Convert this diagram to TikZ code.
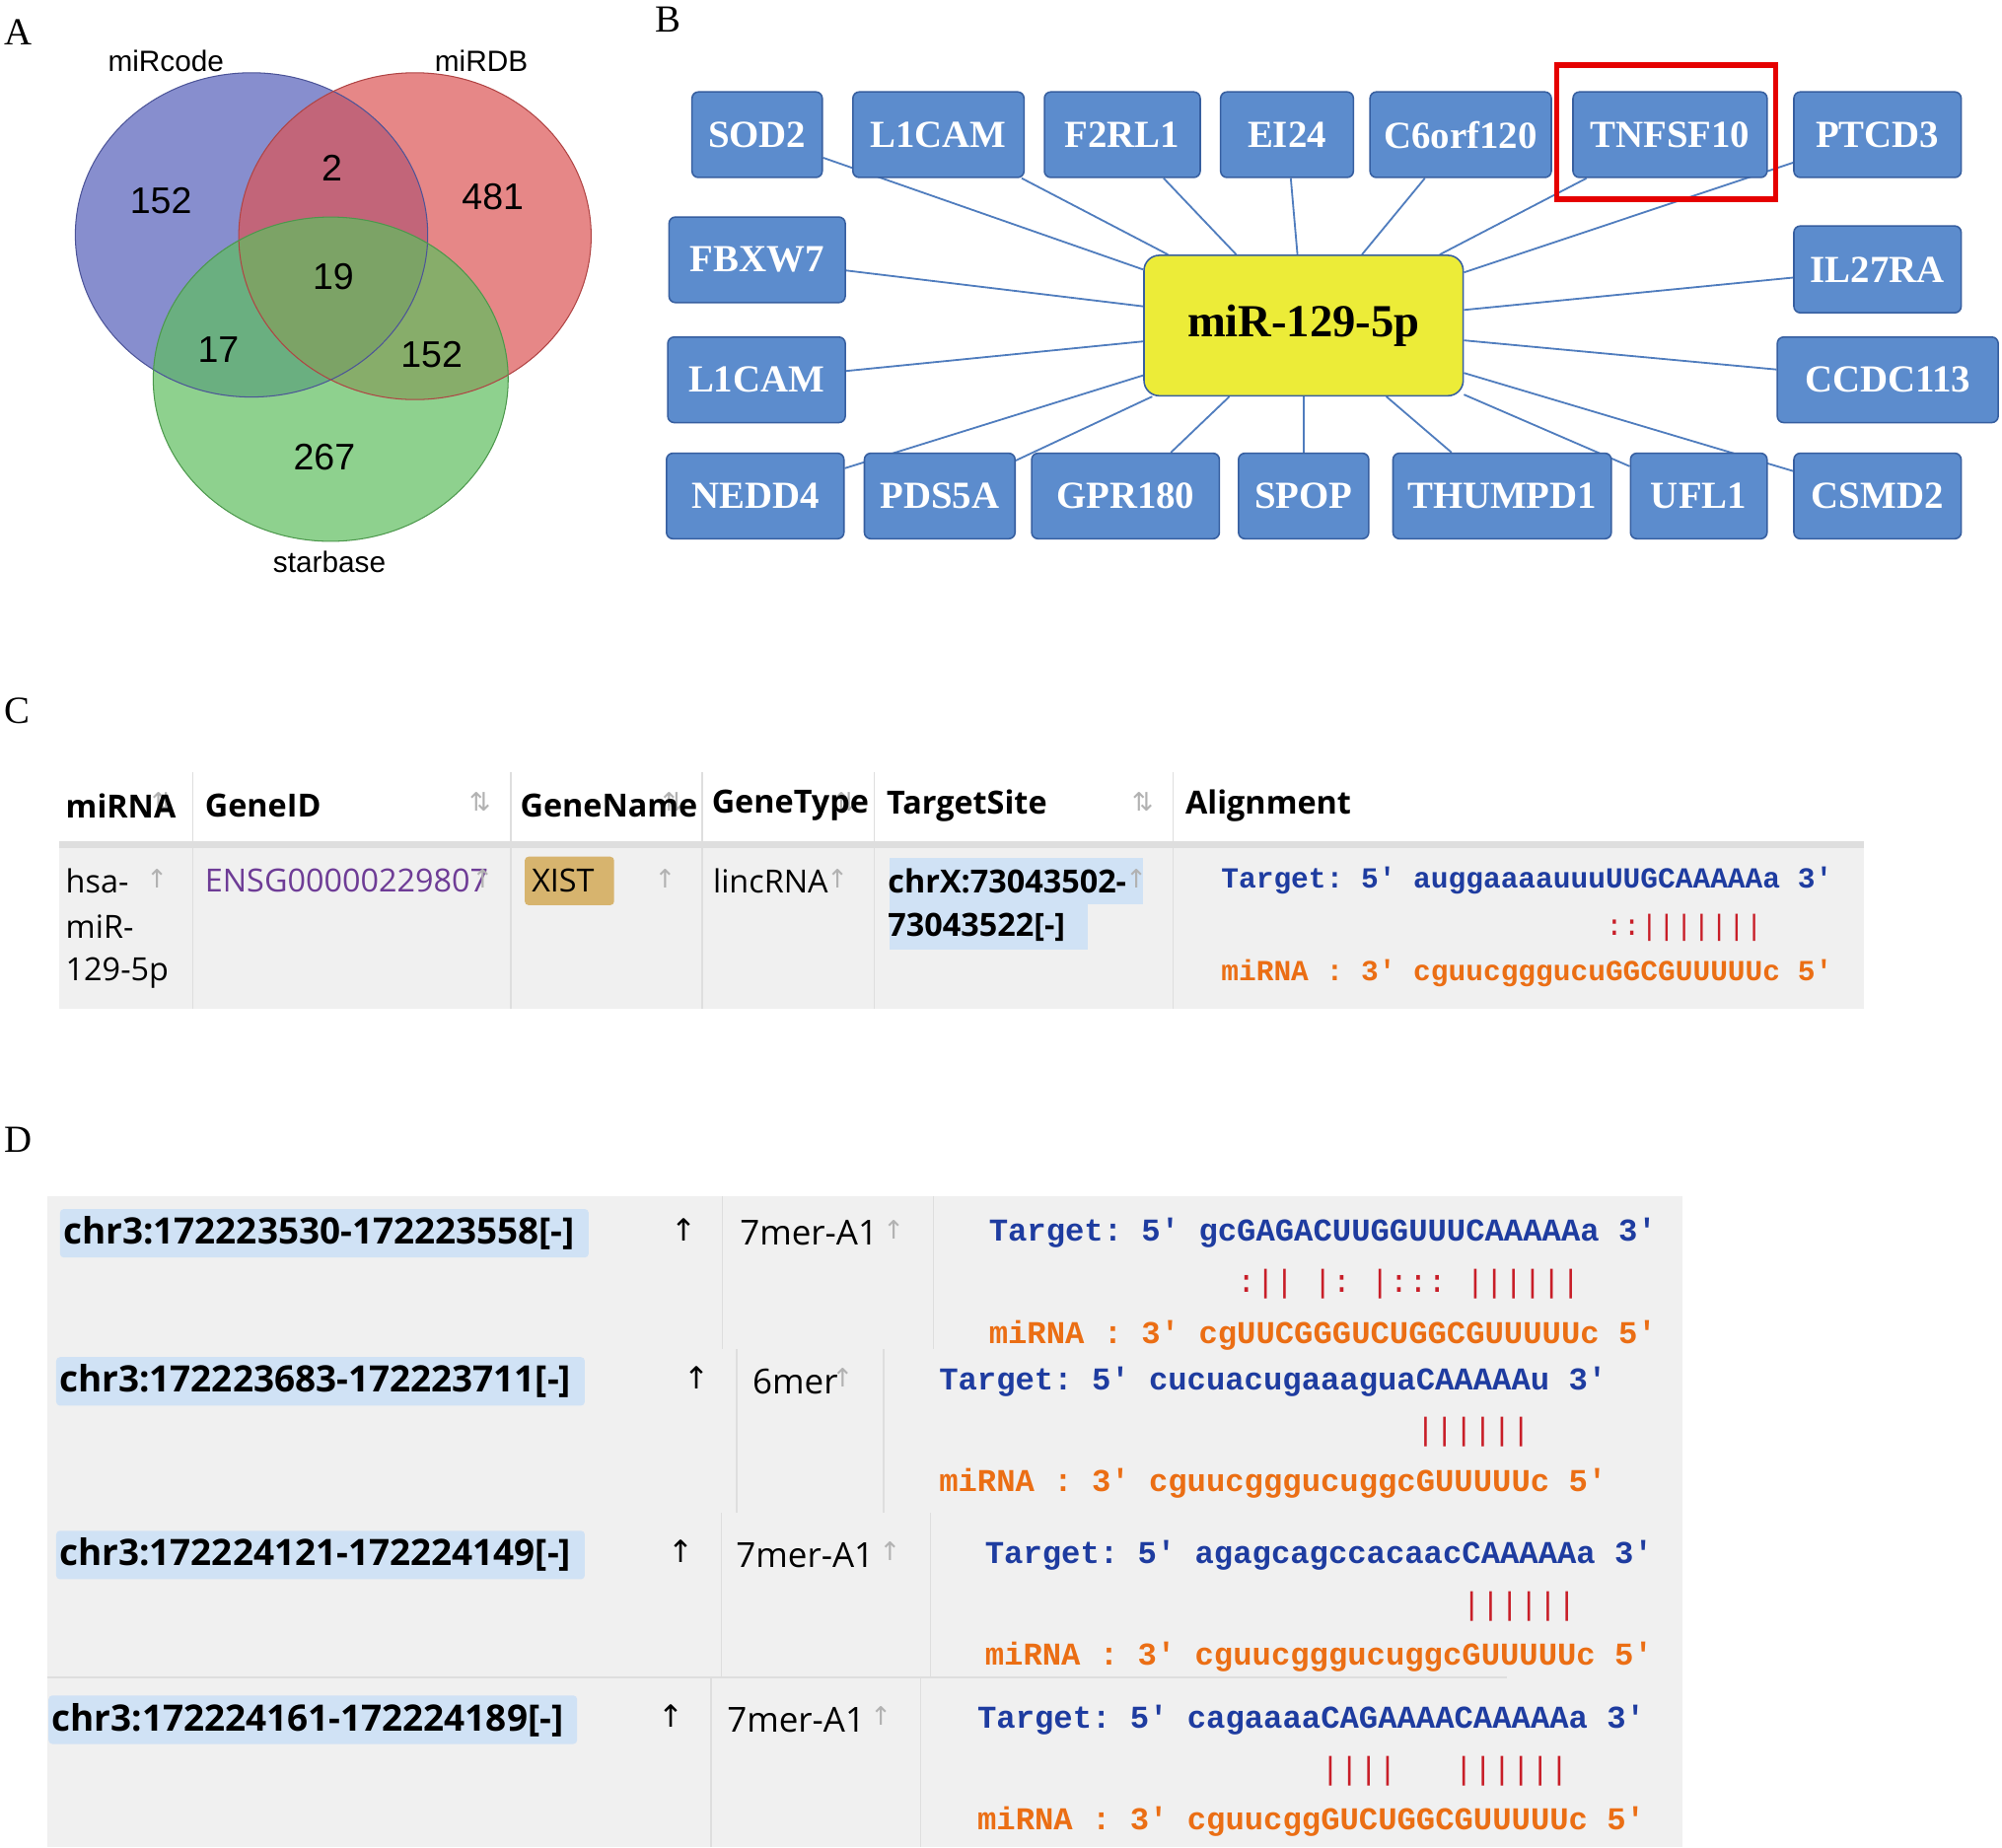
\documentclass[tikz,border=0pt]{standalone}
\usepackage{fontspec}
\setmainfont{Liberation Serif}
\newfontfamily\vsans{Liberation Sans}
\newfontfamily\tsans{Open Sans}
\newfontfamily\dsym{DejaVu Sans}
\newfontfamily\mono{Liberation Mono}[Ligatures=ResetAll]
\newcommand\ap{\char"0027\relax}
\pgfdeclarelayer{bg}
\pgfsetlayers{bg,main}
\definecolor{vblue}{RGB}{95,105,190}
\definecolor{vred}{RGB}{220,85,85}
\definecolor{vgreen}{RGB}{95,190,95}
\definecolor{gbox}{RGB}{92,140,205}
\definecolor{gborder}{RGB}{55,95,160}
\definecolor{glink}{RGB}{80,125,190}
\definecolor{myel}{RGB}{236,236,56}
\definecolor{tblue}{RGB}{30,60,160}
\definecolor{torange}{RGB}{235,110,20}
\definecolor{tred}{RGB}{200,30,40}
\definecolor{rowbg}{RGB}{240,240,240}
\definecolor{colline}{RGB}{222,222,222}
\definecolor{hl}{RGB}{208,226,245}
\definecolor{tan}{RGB}{215,180,110}
\definecolor{purp}{RGB}{110,60,150}
\begin{document}
\begin{tikzpicture}[x=1pt,y=-1pt,
  gene/.style={draw=gborder,line width=1.2pt,fill=gbox,rounded corners=5pt,text=white,
    font=\fontsize{30}{32}\selectfont\bfseries,inner sep=0pt},
  link/.style={draw=glink,line width=1.4pt},
  plab/.style={font=\fontsize{30}{32}\selectfont,anchor=west},
  vnum/.style={font=\vsans\fontsize{29}{30}\selectfont},
  vlab/.style={font=\vsans\fontsize{23}{24}\selectfont},
  th/.style={font=\tsans\bfseries\fontsize{25}{26}\selectfont,anchor=west},
  td/.style={font=\tsans\fontsize{25}{26}\selectfont,anchor=west},
  tdb/.style={font=\tsans\bfseries\fontsize{25}{26}\selectfont,anchor=west},
  chr/.style={font=\tsans\bfseries\fontsize{28.5}{30}\selectfont,anchor=west},
  arr/.style={font=\dsym\fontsize{20}{22}\selectfont,text=gray!60},
  tg/.style={font=\mono\fontsize{#1}{#1}\selectfont\bfseries,text=tblue,anchor=west},
  mi/.style={font=\mono\fontsize{#1}{#1}\selectfont\bfseries,text=torange,anchor=west},
  pr/.style={font=\mono\fontsize{#1}{#1}\selectfont,text=tred,anchor=west},
  cl/.style={draw=colline,line width=1pt}]
\useasboundingbox (0,0) rectangle (1568,1447);
\begin{pgfonlayer}{bg}
\fill[white] (0,0) rectangle (1568,1447);
\end{pgfonlayer}
% panel labels
\node[plab] (LA) at (0,25) {A};
\node[plab] (LB) at (510,15) {B};
\node[plab] (LC) at (0,557) {C};
\node[plab] (LD) at (0,893) {D};
% ---- Venn
\fill[vblue,opacity=0.75] (197,184) ellipse [x radius=138,y radius=127];
\fill[vred,opacity=0.7] (325,185) ellipse [x radius=138,y radius=128];
\fill[vgreen,opacity=0.7] (259,297) ellipse [x radius=139,y radius=127];
\draw[vblue!80!black,line width=0.8pt] (197,184) ellipse [x radius=138,y radius=127];
\draw[vred!80!black,line width=0.8pt] (325,185) ellipse [x radius=138,y radius=128];
\draw[vgreen!80!black,line width=0.8pt] (259,297) ellipse [x radius=139,y radius=127];
\node[vlab] (v1) at (130,48) {miRcode};
\node[vlab] (v2) at (377,48) {miRDB};
\node[vlab] (v3) at (258,440) {starbase};
\node[vnum] (n1) at (126,157) {152};
\node[vnum] (n2) at (260,132) {2};
\node[vnum] (n3) at (386,154) {481};
\node[vnum] (n4) at (261,217) {19};
\node[vnum] (n5) at (171,274) {17};
\node[vnum] (n6) at (338,278) {152};
\node[vnum] (n7) at (254,358) {267};
% ---- Network
\node[draw=gborder,line width=1.2pt,fill=myel,rounded corners=12pt,minimum width=250pt,minimum height=110pt,
  font=\fontsize{36}{38}\selectfont\bfseries] (c) at (1021,255) {miR-129-5p};
\foreach \n/\t/\xa/\ya/\xb/\yb in {
 g1/SOD2/542/72/644/139, g2/L1CAM/668/72/802/139, g3/F2RL1/818/72/940/139,
 g4/EI24/956/72/1060/139, g5/C6orf120/1073/72/1215/139, g6/TNFSF10/1232/72/1384/139,
 g7/PTCD3/1405/72/1536/139, g8/FBXW7/524/170/662/237, g9/IL27RA/1405/177/1536/245,
 g10/L1CAM/523/264/662/331, g11/CCDC113/1392/264/1565/331, g12/NEDD4/522/355/661/422,
 g13/PDS5A/677/355/795/422, g14/GPR180/808/355/955/422, g15/SPOP/970/355/1072/422,
 g16/THUMPD1/1091/355/1262/422, g17/UFL1/1277/355/1384/422, g18/CSMD2/1405/355/1536/422}{
 \node[gene,minimum width=\xb pt-\xa pt,minimum height=\yb pt-\ya pt] (\n) at ({(\xa+\xb)/2},{(\ya+\yb)/2}) {\t};
}
\begin{pgfonlayer}{bg}
\foreach \n in {g1,g2,g3,g4,g5,g6,g7,g8,g9,g10,g11,g12,g13,g14,g15,g16,g17,g18}{
 \draw[link] (c) -- (\n);
}
\end{pgfonlayer}
\node[draw=red!90!black,line width=4pt,minimum width=172pt,minimum height=105pt] (rf) at (1305,103.5) {};
% ---- Table C
\fill[rowbg] (46,664) rectangle (1460,790);
\fill[colline] (46,659) rectangle (1460,664);
\foreach \x in {151,400,550,685,919}{\draw[cl] (\x,605) -- (\x,790);}
\foreach \x in {127,376,527,662,895}{\node[arr] at (\x,628) {⇅};}
\node[th] (h1) at (48,631) {miRNA};
\node[th] (h2) at (157,631) {GeneID};
\node[th] (h3) at (404,631) {GeneName};
\node[th] (h4) at (554,631) {GeneType};
\node[th] (h5) at (691,631) {TargetSite};
\node[th] (h6) at (925,631) {Alignment};
\node[td] (d1) at (48,690) {hsa-};
\node[td] (d2) at (48,726) {miR-};
\node[td] (d3) at (48,762) {129-5p};
\fill[tan,rounded corners=3pt] (411,671) rectangle (481,709);
\node[td] (d4) at (157,690) {\color{purp}ENSG00000229807};
\node[td] (d5) at (413,690) {XIST};
\node[td] (d6) at (555,690) {lincRNA};
\fill[hl] (697,672) rectangle (895,708);
\fill[hl] (697,708) rectangle (852,744);
\node[tdb] (d7) at (692,690) {chrX:73043502-};
\node[tdb] (d8) at (692,726) {73043522[-]};
\foreach \x in {123,521,656,890,378}{\node[arr] at (\x,688) {↑};}
\node[tg=22.8] (c1) at (953,690) {Target:~5\ap~auggaaaauuuUUGCAAAAAa~3\ap};
\node[pr=22.8] (c2p) at (953,727) {~~~~~~~~~~~~~~~~~~~~~~::|||||||};
\node[mi=22.8] (c3) at (953,762) {miRNA~:~3\ap~cguucgggucuGGCGUUUUUc~5\ap};
% ---- Table D
\fill[rowbg] (37,937) rectangle (1318,1447);
\draw[colline,line width=1.5pt] (37,1314) -- (1180,1314);
\foreach \x/\ya/\yb in {566/937/1057,731/937/1057,577/1057/1185,692/1057/1185,565/1185/1313,729/1185/1313,557/1315/1447,721/1315/1447}{
 \draw[cl] (\x,\ya) -- (\x,\yb);}
\foreach \n/\xa/\ya/\t/\ar/\xt/\ty/\ax/\tx/\seq/\prs/\ms in {
 r1/47/966/chr3:172223530-172223558[-]/536/580/7mer-A1/700/771/gcGAGACUUGGUUUCAAAAAa/~~~~~~~~~~~~~:||~|:~|:::~||||||/cgUUCGGGUCUGGCGUUUUUc,
 r2/44/1082/chr3:172223683-172223711[-]/546/590/6mer/660/732/cucuacugaaaguaCAAAAAu/~~~~~~~~~~~~~~~~~~~~~~~~~||||||/cguucgggucuggcGUUUUUc,
 r3/44/1218/chr3:172224121-172224149[-]/533/577/7mer-A1/697/768/agagcagccacaacCAAAAAa/~~~~~~~~~~~~~~~~~~~~~~~~~||||||/cguucgggucuggcGUUUUUc,
 r4/38/1347/chr3:172224161-172224189[-]/526/570/7mer-A1/690/762/cagaaaaCAGAAAACAAAAAa/~~~~~~~~~~~~~~~~~~||||~~~||||||/cguucggGUCUGGCGUUUUUc}{
 \fill[hl,rounded corners=3pt] (\xa,\ya-19) rectangle (\xa+414,\ya+19);
 \node[chr] (\n a) at (\xa-1,\ya) {\t};
 \node[font=\dsym\fontsize{24}{26}\selectfont] (\n b) at (\ar,\ya-3) {↑};
 \node[td,font=\tsans\fontsize{27}{28}\selectfont] (\n c) at (\xt-4,\ya) {\ty};
 \node[arr] (\n d) at (\ax,\ya-3) {↑};
 \node[tg=24.9] (\n e) at (\tx,\ya) {Target:~5\ap~\seq~3\ap};
 \node[pr=24.9] (\n f) at (\tx,\ya+40) {\prs};
 \node[mi=24.9] (\n g) at (\tx,\ya+80) {miRNA~:~3\ap~\ms~5\ap};
}
\end{tikzpicture}
\end{document}
